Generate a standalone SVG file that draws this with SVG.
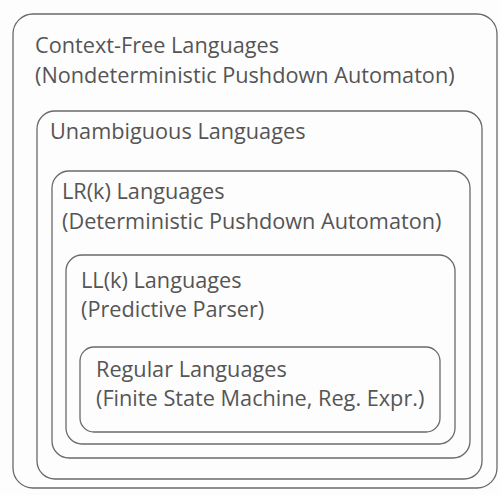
<svg xmlns="http://www.w3.org/2000/svg" width="500" height="495" viewBox="0 0 500 495">
<style>
.box{fill:none;stroke:#6a6a6a;stroke-width:1.3}
.t{font-family:"Open Sans","Liberation Sans",sans-serif;font-size:21.7px;fill:#555}
</style>
<rect width="500" height="495" fill="#fdfdfd"/>
<g id="cfl"><rect class="box" x="13" y="14" width="484" height="474" rx="20"/>
<text class="t" x="35" y="53">Context-Free Languages</text>
<text class="t" x="35" y="83">(Nondeterministic Pushdown Automaton)</text></g>
<g id="unamb"><rect class="box" x="37" y="111" width="445" height="368" rx="18"/>
<text class="t" x="50" y="139">Unambiguous Languages</text></g>
<g id="lr"><rect class="box" x="52" y="171" width="418" height="287" rx="17"/>
<text class="t" x="62" y="199">LR(k) Languages</text>
<text class="t" x="62" y="229">(Deterministic Pushdown Automaton)</text></g>
<g id="ll"><rect class="box" x="66" y="255" width="389" height="189" rx="16"/>
<text class="t" x="81" y="288">LL(k) Languages</text>
<text class="t" x="81" y="317">(Predictive Parser)</text></g>
<g id="reg"><rect class="box" x="80" y="347" width="360" height="85" rx="14"/>
<text class="t" x="96" y="377">Regular Languages</text>
<text class="t" x="96" y="406">(Finite State Machine, Reg. Expr.)</text></g>
<g id="connectors"/>
</svg>
